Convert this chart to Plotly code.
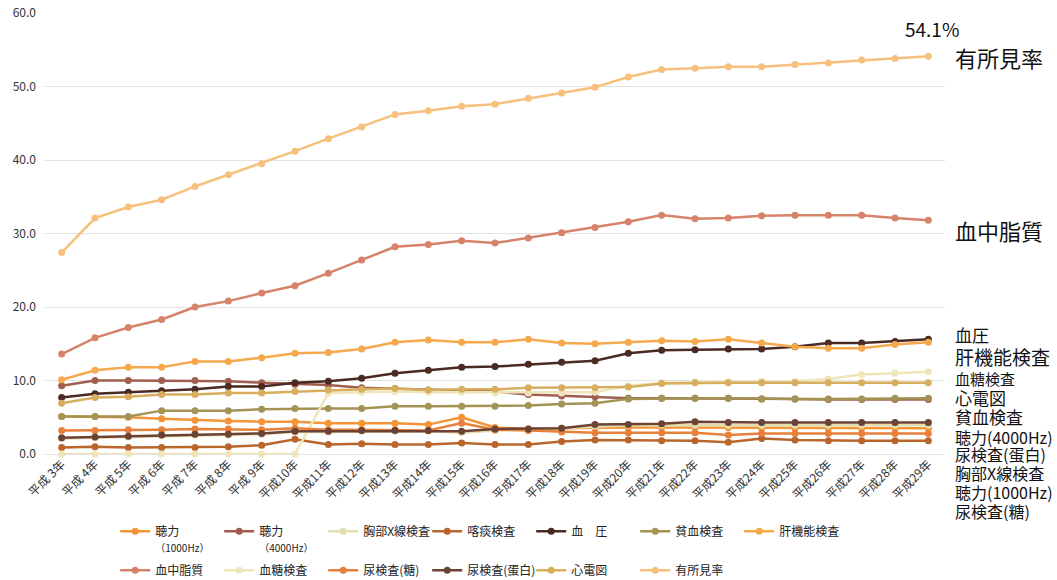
import plotly.graph_objects as go

# 年度（平成3年〜平成29年）
years = [
    "平成 3年", "平成 4年", "平成 5年", "平成 6年", "平成 7年", "平成 8年", "平成 9年",
    "平成10年", "平成11年", "平成12年", "平成13年", "平成14年", "平成15年", "平成16年",
    "平成17年", "平成18年", "平成19年", "平成20年", "平成21年", "平成22年", "平成23年",
    "平成24年", "平成25年", "平成26年", "平成27年", "平成28年", "平成29年",
]

# 項目別の有所見率（%）
hearing_1000 = [5.1, 5.1, 5.0, 4.8, 4.6, 4.5, 4.4, 4.4, 4.2, 4.2, 4.2, 4.0, 5.0, 3.6,
                3.4, 3.5, 3.6, 3.6, 3.6, 3.6, 3.6, 3.5, 3.5, 3.5, 3.5, 3.5, 3.5]
hearing_4000 = [9.3, 10.0, 10.0, 10.0, 10.0, 9.9, 9.7, 9.5, 9.4, 9.0, 8.9, 8.7, 8.6, 8.5,
                8.1, 7.9, 7.8, 7.6, 7.6, 7.6, 7.6, 7.5, 7.5, 7.4, 7.4, 7.4, 7.4]
chest_xray = [2.1, 2.2, 2.3, 2.5, 2.6, 2.6, 2.7, 3.0, 3.0, 3.1, 3.1, 3.1, 2.9, 3.2,
              3.3, 3.5, 3.7, 3.9, 3.9, 3.9, 3.9, 3.9, 3.9, 3.9, 3.9, 3.9, 3.9]
sputum = [0.9, 1.0, 0.9, 0.9, 0.9, 1.0, 1.2, 2.0, 1.3, 1.4, 1.3, 1.3, 1.5, 1.3,
          1.3, 1.7, 1.9, 1.9, 1.8, 1.8, 1.6, 2.1, 1.9, 1.8, 1.8, 1.8, 1.8]
blood_pressure = [7.7, 8.2, 8.4, 8.6, 8.8, 9.2, 9.2, 9.7, 9.9, 10.3, 11.0, 11.4, 11.8, 11.9,
                  12.2, 12.5, 12.7, 13.7, 14.1, 14.2, 14.3, 14.3, 14.6, 15.1, 15.1, 15.3, 15.6]
anemia = [5.1, 5.1, 5.1, 5.9, 5.9, 5.9, 6.1, 6.2, 6.2, 6.2, 6.5, 6.5, 6.5, 6.5,
          6.6, 6.8, 6.9, 7.5, 7.6, 7.6, 7.6, 7.5, 7.5, 7.5, 7.5, 7.6, 7.6]
liver = [10.1, 11.4, 11.8, 11.8, 12.6, 12.6, 13.1, 13.7, 13.8, 14.3, 15.2, 15.5, 15.2, 15.2,
         15.6, 15.1, 15.0, 15.2, 15.4, 15.3, 15.6, 15.1, 14.6, 14.4, 14.4, 14.9, 15.2]
lipids = [13.6, 15.8, 17.2, 18.3, 20.0, 20.8, 21.9, 22.9, 24.6, 26.4, 28.2, 28.5, 29.0, 28.7,
          29.4, 30.1, 30.8, 31.6, 32.5, 32.0, 32.1, 32.4, 32.5, 32.5, 32.5, 32.1, 31.8]
glucose = [0.0, 0.0, 0.0, 0.0, 0.0, 0.0, 0.0, 0.0, 8.3, 8.4, 8.5, 8.4, 8.4, 8.3,
           8.3, 8.3, 8.4, 9.3, 9.7, 9.8, 9.8, 9.9, 9.9, 10.2, 10.8, 11.0, 11.2]
urine_sugar = [3.2, 3.2, 3.3, 3.3, 3.4, 3.4, 3.3, 3.5, 3.3, 3.3, 3.3, 3.2, 4.2, 3.3,
               3.2, 3.0, 2.9, 2.9, 2.9, 2.9, 2.6, 2.8, 2.8, 2.8, 2.8, 2.8, 2.8]
urine_protein = [2.2, 2.3, 2.4, 2.6, 2.7, 2.7, 2.8, 3.1, 3.1, 3.2, 3.2, 3.2, 3.1, 3.4,
                 3.4, 3.5, 4.0, 4.0, 4.1, 4.4, 4.3, 4.3, 4.3, 4.3, 4.3, 4.3, 4.3]
ecg = [6.9, 7.7, 7.8, 8.1, 8.1, 8.3, 8.3, 8.5, 8.7, 8.8, 8.9, 8.7, 8.8, 8.8,
       9.0, 9.0, 9.0, 9.1, 9.6, 9.7, 9.7, 9.7, 9.7, 9.7, 9.7, 9.7, 9.7]
overall = [27.4, 32.1, 33.6, 34.6, 36.4, 38.0, 39.5, 41.2, 42.9, 44.5, 46.2, 46.7, 47.3, 47.6,
           48.4, 49.1, 49.9, 51.3, 52.3, 52.5, 52.7, 52.7, 53.0, 53.2, 53.6, 53.8, 54.1]

# (legend name, values, colour, legend row)
series = [
    ("聴力<br><span style='font-size:10px'>（1000Hz）</span>", hearing_1000, "#F39536", "legend"),
    ("聴力<br><span style='font-size:10px'>（4000Hz）</span>", hearing_4000, "#A05E50", "legend"),
    ("胸部X線検査", chest_xray, "#E4DDAE", "legend"),
    ("喀痰検査", sputum, "#B8662C", "legend"),
    ("血　圧", blood_pressure, "#4A2A22", "legend"),
    ("貧血検査", anemia, "#A39354", "legend"),
    ("肝機能検査", liver, "#F5A94C", "legend"),
    ("血中脂質", lipids, "#D6836A", "legend2"),
    ("血糖検査", glucose, "#EFE5B9", "legend2"),
    ("尿検査(糖)", urine_sugar, "#E6803A", "legend2"),
    ("尿検査(蛋白)", urine_protein, "#6B4233", "legend2"),
    ("心電図", ecg, "#D6AE5E", "legend2"),
    ("有所見率", overall, "#F7C07C", "legend2"),
]

fig = go.Figure()
for name, vals, color, leg in series:
    fig.add_trace(go.Scatter(
        x=years, y=vals, name=name, mode="lines+markers",
        line=dict(color=color, width=2.5),
        marker=dict(size=7, color=color),
        cliponaxis=False, legend=leg,
    ))

# plot-area geometry used to place the side labels
L, T, W, H = 45, 13, 900, 441.5
FIG_W, FIG_H = 1057, 580


def px(xp):
    return (xp - L) / W


def py(yp):
    return (T + H - yp) / H


annotations = [
    dict(text=f"{overall[-1]:.1f}%", x=px(903), y=py(29), size=19),
    dict(text="有所見率", x=px(953), y=py(57), size=22),
    dict(text="血中脂質", x=px(953), y=py(230), size=22),
    dict(text="血圧", x=px(953), y=py(335), size=17),
    dict(text="肝機能検査", x=px(953), y=py(357), size=19),
    dict(text="血糖検査", x=px(953), y=py(379), size=15),
    dict(text="心電図", x=px(953), y=py(398), size=17),
    dict(text="貧血検査", x=px(953), y=py(417), size=17),
    dict(text="聴力(4000Hz)", x=px(953), y=py(437), size=16),
    dict(text="尿検査(蛋白)", x=px(953), y=py(455), size=16),
    dict(text="胸部X線検査", x=px(953), y=py(474), size=16),
    dict(text="聴力(1000Hz)", x=px(953), y=py(493), size=16),
    dict(text="尿検査(糖)", x=px(953), y=py(512), size=16),
]

legend_common = dict(
    orientation="h", x=0.078, xanchor="left", xref="paper", yref="container",
    yanchor="top", font=dict(size=12, color="#222222"), entrywidth=59,
    entrywidthmode="pixels", valign="top", tracegroupgap=0, itemwidth=30,
    bgcolor="rgba(0,0,0,0)",
)

fig.update_layout(
    width=FIG_W, height=FIG_H,
    margin=dict(l=L, r=FIG_W - L - W, t=T, b=FIG_H - T - H, autoexpand=False),
    paper_bgcolor="white", plot_bgcolor="white",
    font=dict(family="Noto Sans CJK JP, Noto Sans, sans-serif", color="#333333"),
    legend=dict(legend_common, y=1 - 517 / FIG_H),
    legend2=dict(legend_common, y=1 - 556 / FIG_H),
    annotations=[
        dict(text=a["text"], x=a["x"], y=a["y"], xref="paper", yref="paper",
             xanchor="left", yanchor="middle", showarrow=False,
             font=dict(size=a["size"], color="#111111",
                       family="Noto Sans CJK JP, Noto Sans, sans-serif"))
        for a in annotations
    ],
)

fig.update_xaxes(
    type="category", range=[-0.5, len(years) - 0.5], tickangle=-45,
    tickfont=dict(size=12, color="#333333"), showgrid=False, showline=False,
    ticks="", automargin=False,
)
fig.update_yaxes(
    range=[0, 60], dtick=10, tickformat=".1f", showgrid=True, gridcolor="#E2E2E2",
    gridwidth=1, zeroline=True, zerolinecolor="#E2E2E2", zerolinewidth=1,
    tickfont=dict(size=12, color="#333333"), showline=False, automargin=False,
    ticklabelstandoff=8,
)

fig.write_html("out.html")
